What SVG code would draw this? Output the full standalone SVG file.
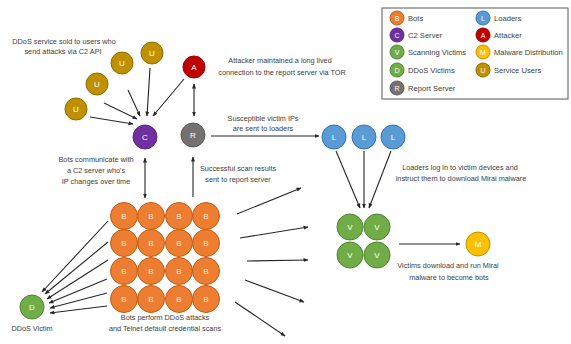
<svg xmlns="http://www.w3.org/2000/svg" width="571" height="344" viewBox="0 0 571 344">
<defs>
<marker id="ah" viewBox="0 0 10 10" refX="9" refY="5" markerWidth="5" markerHeight="5" orient="auto-start-reverse" markerUnits="userSpaceOnUse">
<path d="M0,1 L10,5 L0,9 Z" fill="#262626"/>
</marker>
</defs>
<style>
text{font-family:"Liberation Sans",Arial,sans-serif;}
.lbl{font-size:7.3px;fill:#404040;text-anchor:middle;}
.lg{font-size:7.6px;fill:#404040;}
.n{font-size:8px;fill:#fff;text-anchor:middle;dominant-baseline:central;}
.c{stroke-width:1;}
.b{fill:#ED7D31;stroke:#C55A11;}
.cc{fill:#7030A0;stroke:#5A2680;}
.v{fill:#70AD47;stroke:#548235;}
.r{fill:#767171;stroke:#595959;}
.l{fill:#5B9BD5;stroke:#2E75B6;}
.a{fill:#C00000;stroke:#A00000;}
.m{fill:#FFC000;stroke:#BF9000;}
.u{fill:#BF9000;stroke:#8F6B00;}
.con line{stroke:#262626;stroke-width:1.1;fill:none;}
</style>
<rect width="571" height="344" fill="#fff"/>

<g id="legend">
<rect x="382" y="8" width="186" height="91" fill="#fff" stroke="#595959" stroke-width="1"/>
<circle class="c b" cx="397" cy="18" r="7"/><text class="n" x="397" y="18" style="font-size:7px">B</text><text class="lg" x="408" y="21">Bots</text>
<circle class="c cc" cx="397" cy="35" r="7"/><text class="n" x="397" y="35" style="font-size:7px">C</text><text class="lg" x="408" y="38">C2 Server</text>
<circle class="c v" cx="397" cy="52" r="7"/><text class="n" x="397" y="52" style="font-size:7px">V</text><text class="lg" x="408" y="55">Scanning Victims</text>
<circle class="c v" cx="397" cy="70" r="7"/><text class="n" x="397" y="70" style="font-size:7px">D</text><text class="lg" x="408" y="73">DDoS Victims</text>
<circle class="c r" cx="397" cy="88" r="7"/><text class="n" x="397" y="88" style="font-size:7px">R</text><text class="lg" x="408" y="91">Report Server</text>
<circle class="c l" cx="483" cy="18" r="7"/><text class="n" x="483" y="18" style="font-size:7px">L</text><text class="lg" x="494" y="21">Loaders</text>
<circle class="c a" cx="483" cy="35" r="7"/><text class="n" x="483" y="35" style="font-size:7px">A</text><text class="lg" x="494" y="38">Attacker</text>
<circle class="c m" cx="483" cy="52" r="7"/><text class="n" x="483" y="52" style="font-size:7px">M</text><text class="lg" x="494" y="55">Malware Distribution</text>
<circle class="c u" cx="483" cy="70" r="7"/><text class="n" x="483" y="70" style="font-size:7px">U</text><text class="lg" x="494" y="73">Service Users</text>
</g>

<g id="connectors" class="con">
<line x1="90" y1="117" x2="133" y2="124" marker-end="url(#ah)"/>
<line x1="104" y1="103" x2="137" y2="119" marker-end="url(#ah)"/>
<line x1="128" y1="90" x2="140" y2="116" marker-end="url(#ah)"/>
<line x1="150" y1="68" x2="147" y2="116" marker-end="url(#ah)"/>
<line x1="184" y1="79" x2="153" y2="116" marker-end="url(#ah)"/>
<line x1="194" y1="84" x2="194" y2="116" marker-start="url(#ah)" marker-end="url(#ah)"/>
<line x1="211" y1="136" x2="319" y2="136" marker-end="url(#ah)"/>
<line x1="145" y1="158" x2="145" y2="198" marker-start="url(#ah)" marker-end="url(#ah)"/>
<line x1="193" y1="197" x2="193" y2="157" marker-end="url(#ah)"/>
<line x1="336" y1="151" x2="360" y2="208" marker-end="url(#ah)"/>
<line x1="364" y1="151" x2="364" y2="208" marker-end="url(#ah)"/>
<line x1="391" y1="151" x2="369" y2="208" marker-end="url(#ah)"/>
<line x1="399" y1="244" x2="460" y2="244" marker-end="url(#ah)"/>
<line x1="237" y1="214" x2="301" y2="188" marker-end="url(#ah)"/>
<line x1="240" y1="238" x2="308" y2="227" marker-end="url(#ah)"/>
<line x1="247" y1="261" x2="308" y2="260" marker-end="url(#ah)"/>
<line x1="245" y1="280" x2="304" y2="302" marker-end="url(#ah)"/>
<line x1="235" y1="302" x2="285" y2="336" marker-end="url(#ah)"/>
<line x1="108" y1="221" x2="42" y2="292" marker-end="url(#ah)"/>
<line x1="108" y1="242" x2="45" y2="294" marker-end="url(#ah)"/>
<line x1="108" y1="260" x2="47" y2="299" marker-end="url(#ah)"/>
<line x1="107" y1="279" x2="49" y2="303" marker-end="url(#ah)"/>
<line x1="107" y1="293" x2="50" y2="308" marker-end="url(#ah)"/>
<line x1="107" y1="306" x2="50" y2="313" marker-end="url(#ah)"/>
</g>

<g id="u1"><circle class="c u" cx="76" cy="109" r="11"/><text class="n" x="76" y="109">U</text></g>
<g id="u2"><circle class="c u" cx="97" cy="84" r="11"/><text class="n" x="97" y="84">U</text></g>
<g id="u3"><circle class="c u" cx="122" cy="63" r="11"/><text class="n" x="122" y="63">U</text></g>
<g id="u4"><circle class="c u" cx="152" cy="53" r="11"/><text class="n" x="152" y="53">U</text></g>
<g id="attacker"><circle class="c a" cx="194" cy="67" r="11"/><text class="n" x="194" y="67">A</text></g>
<g id="c2"><circle class="c cc" cx="145" cy="137" r="12"/><text class="n" x="145" y="137">C</text></g>
<g id="report"><circle class="c r" cx="193" cy="135" r="12"/><text class="n" x="193" y="135">R</text></g>
<g id="l1"><circle class="c l" cx="334" cy="137" r="12"/><text class="n" x="334" y="137">L</text></g>
<g id="l2"><circle class="c l" cx="364" cy="137" r="12"/><text class="n" x="364" y="137">L</text></g>
<g id="l3"><circle class="c l" cx="393" cy="137" r="12"/><text class="n" x="393" y="137">L</text></g>
<g id="v1"><circle class="c v" cx="350" cy="227" r="13"/><text class="n" x="350" y="227">V</text></g>
<g id="v2"><circle class="c v" cx="377" cy="227" r="13"/><text class="n" x="377" y="227">V</text></g>
<g id="v3"><circle class="c v" cx="350" cy="255" r="13"/><text class="n" x="350" y="255">V</text></g>
<g id="v4"><circle class="c v" cx="377" cy="255" r="13"/><text class="n" x="377" y="255">V</text></g>
<g id="malware"><circle class="c m" cx="478" cy="244" r="12"/><text class="n" x="478" y="244">M</text></g>
<g id="ddos-victim"><circle class="c v" cx="32" cy="307" r="12"/><text class="n" x="32" y="307">D</text></g>

<g id="bots">
<g fill="none">
<circle class="c b" cx="124" cy="216" r="13.5"/><circle class="c b" cx="151" cy="216" r="13.5"/><circle class="c b" cx="179" cy="216" r="13.5"/><circle class="c b" cx="206" cy="216" r="13.5"/>
<circle class="c b" cx="124" cy="243" r="13.5"/><circle class="c b" cx="151" cy="243" r="13.5"/><circle class="c b" cx="179" cy="243" r="13.5"/><circle class="c b" cx="206" cy="243" r="13.5"/>
<circle class="c b" cx="124" cy="271" r="13.5"/><circle class="c b" cx="151" cy="271" r="13.5"/><circle class="c b" cx="179" cy="271" r="13.5"/><circle class="c b" cx="206" cy="271" r="13.5"/>
<circle class="c b" cx="124" cy="299" r="13.5"/><circle class="c b" cx="151" cy="299" r="13.5"/><circle class="c b" cx="179" cy="299" r="13.5"/><circle class="c b" cx="206" cy="299" r="13.5"/>
</g>
<g style="fill:#FBE5D6">
<text class="n" x="124" y="216" style="fill:#FBE5D6">B</text><text class="n" x="151" y="216" style="fill:#FBE5D6">B</text><text class="n" x="179" y="216" style="fill:#FBE5D6">B</text><text class="n" x="206" y="216" style="fill:#FBE5D6">B</text>
<text class="n" x="124" y="243" style="fill:#FBE5D6">B</text><text class="n" x="151" y="243" style="fill:#FBE5D6">B</text><text class="n" x="179" y="243" style="fill:#FBE5D6">B</text><text class="n" x="206" y="243" style="fill:#FBE5D6">B</text>
<text class="n" x="124" y="271" style="fill:#FBE5D6">B</text><text class="n" x="151" y="271" style="fill:#FBE5D6">B</text><text class="n" x="179" y="271" style="fill:#FBE5D6">B</text><text class="n" x="206" y="271" style="fill:#FBE5D6">B</text>
<text class="n" x="124" y="299" style="fill:#FBE5D6">B</text><text class="n" x="151" y="299" style="fill:#FBE5D6">B</text><text class="n" x="179" y="299" style="fill:#FBE5D6">B</text><text class="n" x="206" y="299" style="fill:#FBE5D6">B</text>
</g>
</g>

<g id="labels">
<text class="lbl" x="64" y="44">DDoS service sold to users who</text>
<text class="lbl" x="63" y="54">send attacks via C2 API</text>
<text class="lbl" x="280" y="63">Attacker maintained a long lived</text>
<text class="lbl" x="282" y="75">connection to the report server via TOR</text>
<text class="lbl" x="263" y="121">Susceptible victim IPs</text>
<text class="lbl" x="263" y="131">are sent to loaders</text>
<text class="lbl" x="96" y="162">Bots communicate with</text>
<text class="lbl" x="96" y="173">a C2 server who's</text>
<text class="lbl" x="96" y="184">IP changes over time</text>
<text class="lbl" x="238" y="171">Successful scan results</text>
<text class="lbl" x="238" y="182">sent to report server</text>
<text class="lbl" x="460" y="170">Loaders log in to victim devices and</text>
<text class="lbl" x="461" y="181">instruct them to download Mirai malware</text>
<text class="lbl" x="448" y="268">Victims download and run Mirai</text>
<text class="lbl" x="449" y="280">malware to become bots</text>
<text class="lbl" x="32" y="331">DDoS Victim</text>
<text class="lbl" x="165" y="320">Bots perform DDoS attacks</text>
<text class="lbl" x="165" y="331">and Telnet default credential scans</text>
</g>
</svg>
